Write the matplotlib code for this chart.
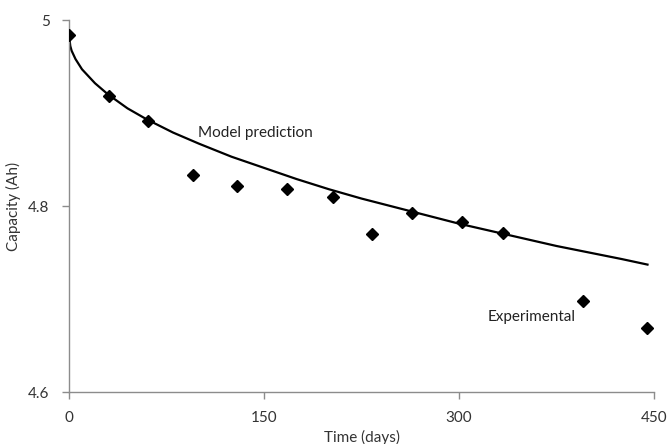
import matplotlib
matplotlib.use("Agg")
import matplotlib.pyplot as plt

# experimental capacity measurements
exp_days = [0, 30.5, 61, 95.5, 129, 167.5, 203, 233, 264, 302.5, 334, 395, 444.5]
exp_cap = [4.984, 4.918, 4.891, 4.833, 4.821, 4.818, 4.810, 4.770, 4.792, 4.783, 4.771, 4.698, 4.669]

# model prediction curve
model_days = [0, 1, 2, 5, 10, 20, 30, 45, 60, 80, 100, 125, 150, 175, 200,
              225, 250, 275, 300, 325, 350, 375, 400, 425, 445]
model_cap = [4.984, 4.972, 4.967, 4.958, 4.947, 4.932, 4.920, 4.905, 4.893, 4.879,
             4.867, 4.853, 4.841, 4.829, 4.818, 4.808, 4.799, 4.790, 4.781, 4.773,
             4.765, 4.757, 4.750, 4.743, 4.737]

x_ticks = [0, 150, 300, 450]
y_ticks = [4.6, 4.8, 5.0]
y_tick_labels = ["4.6", "4.8", "5"]

plt.rcParams['font.family'] = ['Lato', 'DejaVu Sans']

fig = plt.figure(figsize=(6.68, 4.44), dpi=100)
ax = fig.add_axes([69 / 668, 52 / 444, 585 / 668, 372 / 444])

ax.plot(model_days, model_cap, color='black', lw=1.6, zorder=2)
ax.plot(exp_days, exp_cap, 'D', color='black', ms=6, zorder=3)

ax.set_xlim(0, 450)
ax.set_ylim(4.6, 5.0)
ax.set_xticks(x_ticks)
ax.set_yticks(y_ticks)
ax.set_yticklabels(y_tick_labels)

for s in ['top', 'right']:
    ax.spines[s].set_visible(False)
for s in ['left', 'bottom']:
    ax.spines[s].set_color('#8c8c8c')
    ax.spines[s].set_linewidth(1.0)

ax.tick_params(axis='both', colors='#8c8c8c', labelcolor='#333333',
               labelsize=11, length=5, width=1.0)
ax.tick_params(axis='y', pad=9)
ax.tick_params(axis='x', pad=9)

ax.set_xlabel('Time (days)', fontsize=11, color='#333333', labelpad=3)
ax.set_ylabel('Capacity (Ah)', fontsize=11, color='#333333')
ax.yaxis.set_label_coords(-0.082, 0.5)

ax.text(99, 4.878, 'Model prediction', fontsize=11, color='#222222', va='center')
ax.text(322, 4.681, 'Experimental', fontsize=11, color='#222222', va='center')

fig.savefig('out.png', dpi=100)
